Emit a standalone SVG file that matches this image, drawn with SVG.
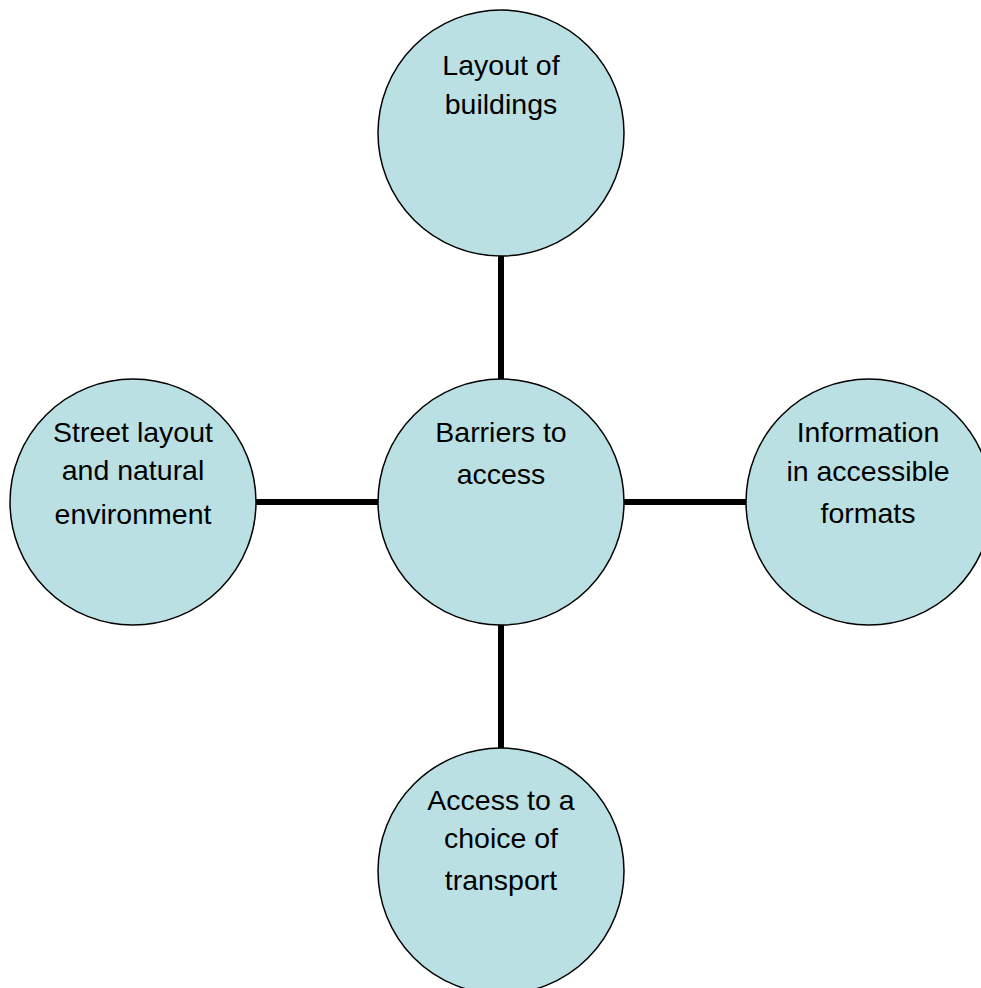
<svg xmlns="http://www.w3.org/2000/svg" width="981" height="988" viewBox="0 0 981 988">
  <style>
    .node circle { fill: #BBE0E3; stroke: #000; stroke-width: 1.5; }
    .node text { font-family: "Liberation Sans", Arial, sans-serif; font-size: 28.5px; fill: #000; text-anchor: middle; }
    .conn line { stroke: #000; stroke-width: 6; }
  </style>
  <rect width="981" height="988" fill="#fff"/>
  <g id="connectors" class="conn">
    <line x1="501" y1="256" x2="501" y2="379"/>
    <line x1="256" y1="502" x2="378" y2="502"/>
    <line x1="624" y1="502" x2="746" y2="502"/>
    <line x1="501" y1="625" x2="501" y2="748"/>
  </g>
  <g id="node-top" class="node">
    <circle cx="501" cy="133" r="123"/>
    <text x="501" y="75">Layout of</text>
    <text x="501" y="114">buildings</text>
  </g>
  <g id="node-center" class="node">
    <circle cx="501" cy="502" r="123"/>
    <text x="501" y="442">Barriers to</text>
    <text x="501" y="484">access</text>
  </g>
  <g id="node-right" class="node">
    <circle cx="869" cy="502" r="123"/>
    <text x="868" y="442">Information</text>
    <text x="868" y="481">in accessible</text>
    <text x="868" y="523">formats</text>
  </g>
  <g id="node-bottom" class="node">
    <circle cx="501" cy="871" r="123"/>
    <text x="501" y="810">Access to a</text>
    <text x="501" y="848">choice of</text>
    <text x="501" y="890">transport</text>
  </g>
  <g id="node-left" class="node">
    <circle cx="133" cy="502" r="123"/>
    <text x="133" y="442">Street layout</text>
    <text x="133" y="480">and natural</text>
    <text x="133" y="524">environment</text>
  </g>
</svg>
